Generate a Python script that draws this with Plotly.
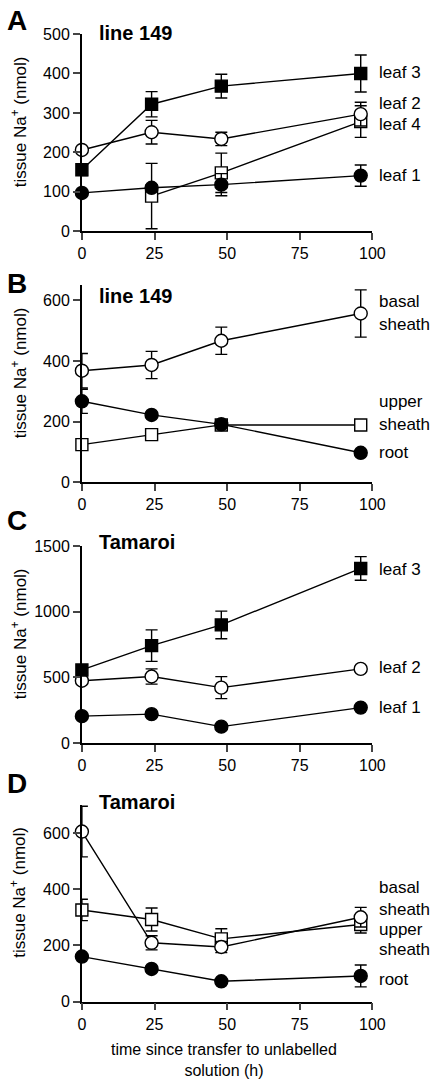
import plotly.graph_objects as go

W, H = 444, 1088
hours = [0, 24, 48, 96]

# Panel A (line 149)
A_leaf3 = [156, 322, 368, 400]; A_leaf3_err = [15, 32, 30, 47]
A_leaf2 = [206, 251, 234, 297]; A_leaf2_err = [8, 30, 17, 30]
A_leaf4_x = [24, 48, 96]
A_leaf4 = [89, 148, 278]; A_leaf4_err = [83, 50, 40]
A_leaf1 = [97, 110, 118, 141]; A_leaf1_err = [5, 8, 28, 27]

# Panel B (line 149)
B_basal = [368, 387, 467, 557]; B_basal_err = [57, 45, 45, 78]
B_upper = [124, 157, 189, 189]; B_upper_err = [5, 5, 5, 5]
B_root = [267, 222, 191, 97]; B_root_err = [40, 5, 5, 5]

# Panel C (Tamaroi)
C_leaf3 = [557, 742, 900, 1330]; C_leaf3_err = [20, 120, 105, 90]
C_leaf2 = [475, 507, 422, 565]; C_leaf2_err = [15, 58, 84, 10]
C_leaf1 = [205, 220, 125, 270]; C_leaf1_err = [5, 5, 5, 5]

# Panel D (Tamaroi)
D_basal = [605, 209, 194, 300]; D_basal_err = [90, 25, 20, 35]
D_upper = [326, 292, 223, 274]; D_upper_err = [38, 41, 36, 30]
D_root = [160, 116, 72, 91]; D_root_err = [5, 5, 5, 39]

x_ticks = [0, 25, 50, 75, 100]
y_ranges = [[0, 500], [0, 650], [0, 1500], [0, 700]]
y_ticks = [[0, 100, 200, 300, 400, 500], [0, 200, 400, 600],
           [0, 500, 1000, 1500], [0, 200, 400, 600]]
panel_letters = ["A", "B", "C", "D"]
panel_titles = ["line 149", "line 149", "Tamaroi", "Tamaroi"]

FONT = "Liberation Sans, Arial, sans-serif"

# pixel layout of each panel (top, bottom)
px_x = (81, 383)
px_y = [(26.5, 226.7), (281.7, 481.7), (546.7, 746.7), (809.5, 1009.3)]

def py(p):
    return 1 - p / H

def pxx(p):
    return p / W

fig = go.Figure()

def add_series(panel, x, y, err, symbol, filled):
    xa = "x" if panel == 1 else f"x{panel}"
    ya = "y" if panel == 1 else f"y{panel}"
    fig.add_trace(go.Scatter(
        x=x, y=y, xaxis=xa, yaxis=ya, mode="lines+markers",
        line=dict(color="black", width=1.4),
        marker=dict(symbol=symbol, size=13 if symbol == "circle" else 12,
                    color="black" if filled else "white",
                    line=dict(color="black", width=1.4)),
        error_y=dict(type="data", array=err, visible=True, color="black",
                     thickness=1.4, width=6),
        cliponaxis=False, showlegend=False, hoverinfo="skip"))

add_series(1, A_leaf4_x, A_leaf4, A_leaf4_err, "square", False)
add_series(1, hours, A_leaf1, A_leaf1_err, "circle", True)
add_series(1, hours, A_leaf2, A_leaf2_err, "circle", False)
add_series(1, hours, A_leaf3, A_leaf3_err, "square", True)

add_series(2, hours, B_upper, B_upper_err, "square", False)
add_series(2, hours, B_root, B_root_err, "circle", True)
add_series(2, hours, B_basal, B_basal_err, "circle", False)

add_series(3, hours, C_leaf1, C_leaf1_err, "circle", True)
add_series(3, hours, C_leaf2, C_leaf2_err, "circle", False)
add_series(3, hours, C_leaf3, C_leaf3_err, "square", True)

add_series(4, hours, D_root, D_root_err, "circle", True)
add_series(4, hours, D_upper, D_upper_err, "square", False)
add_series(4, hours, D_basal, D_basal_err, "circle", False)

layout = dict(
    width=W, height=H, margin=dict(l=0, r=0, t=0, b=0),
    paper_bgcolor="white", plot_bgcolor="white",
    font=dict(family=FONT, color="black", size=16),
)
for i in range(4):
    n = i + 1
    xk = "xaxis" if n == 1 else f"xaxis{n}"
    yk = "yaxis" if n == 1 else f"yaxis{n}"
    layout[xk] = dict(
        domain=[pxx(px_x[0]), pxx(px_x[1])], range=[0, 100],
        anchor="y" if n == 1 else f"y{n}",
        tickvals=x_ticks, ticks="outside", ticklen=7, tickwidth=1.6,
        showline=True, linewidth=1.8, linecolor="black", showgrid=False,
        zeroline=False, tickfont=dict(size=16, family=FONT), fixedrange=True)
    top, bot = px_y[i]
    layout[yk] = dict(
        domain=[py(bot), py(top)], range=y_ranges[i],
        anchor="x" if n == 1 else f"x{n}",
        tickvals=y_ticks[i], ticks="outside", ticklen=7, tickwidth=1.6,
        showline=True, linewidth=1.8, linecolor="black", showgrid=False,
        zeroline=False, tickfont=dict(size=16, family=FONT), fixedrange=True)
fig.update_layout(**layout)

ann = []
letter_y = [13, 280, 521, 788]
title_y = [25, 293, 542, 807]
for i in range(4):
    top, bot = px_y[i]
    ann.append(dict(text=panel_letters[i], x=pxx(1), y=py(letter_y[i]),
                    xref="paper", yref="paper", xanchor="left", yanchor="middle",
                    showarrow=False, font=dict(size=28, family=FONT, weight="bold")))
    ann.append(dict(text=panel_titles[i], x=pxx(97), y=py(title_y[i]),
                    xref="paper", yref="paper", xanchor="left", yanchor="middle",
                    showarrow=False, font=dict(size=20, family=FONT, weight="bold")))
    ann.append(dict(text="tissue Na<sup>+</sup> (nmol)", x=pxx(15), y=py((top + bot) / 2 - 11),
                    xref="paper", yref="paper", xanchor="center", yanchor="middle",
                    textangle=-90, showarrow=False, font=dict(size=17, family=FONT)))

side_labels = [
    (1, [("leaf 3", 403), ("leaf 2", 325), ("leaf 4", 270), ("leaf 1", 140)]),
    (2, [("basal", 595), ("sheath", 522), ("upper", 265), ("sheath", 191), ("root", 99)]),
    (3, [("leaf 3", 1320), ("leaf 2", 577), ("leaf 1", 270)]),
    (4, [("basal", 405), ("sheath", 326), ("upper", 257), ("sheath", 184), ("root", 79)]),
]
for n, items in side_labels:
    ya = "y" if n == 1 else f"y{n}"
    for t, v in items:
        ann.append(dict(text=t, x=pxx(388), y=v, xref="paper", yref=ya,
                        xanchor="left", yanchor="middle", showarrow=False,
                        font=dict(size=17, family=FONT)))

ann.append(dict(text="time since transfer to unlabelled<br>solution (h)",
                x=pxx(229), y=py(1069), xref="paper", yref="paper",
                xanchor="center", yanchor="middle", showarrow=False,
                font=dict(size=16, family=FONT)))
fig.update_layout(annotations=ann)

fig.write_html("out.html", config={"displayModeBar": False},
               post_script="document.body.style.margin='0';")
